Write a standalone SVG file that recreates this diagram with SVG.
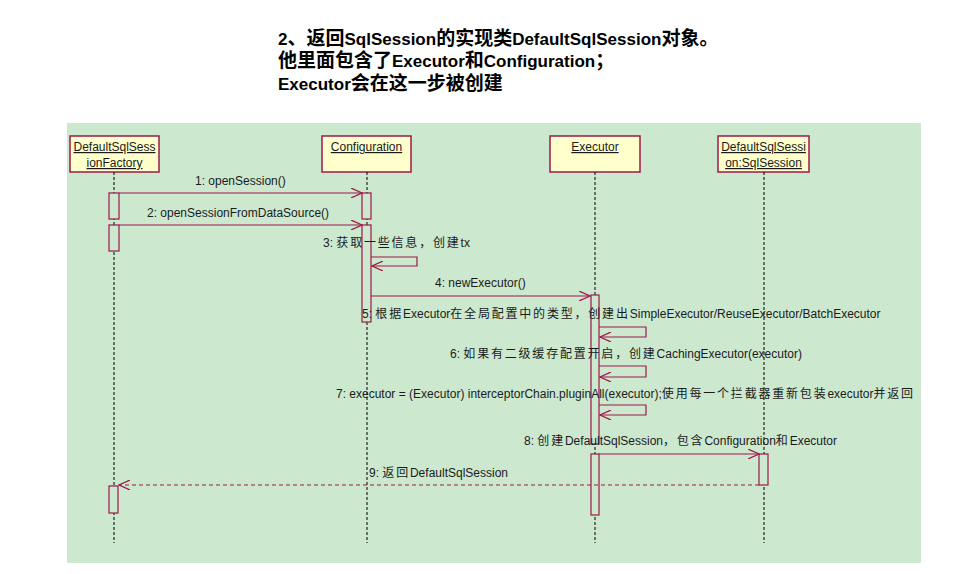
<svg xmlns="http://www.w3.org/2000/svg" width="961" height="574" viewBox="0 0 961 574">
<style>
.t{font-family:"Liberation Sans","Noto Sans CJK SC",sans-serif;font-size:12px;fill:#1b1b1b}
.cj{letter-spacing:1.8px}
.ttl{font-family:"Liberation Sans","Noto Sans CJK SC",sans-serif;font-size:17px;font-weight:bold;fill:#000}
.tc{font-family:"Noto Sans CJK SC",sans-serif;font-size:19px}
.box{fill:#FFFFCC;stroke:#A0174A;stroke-width:1.5}
.nl{text-anchor:middle;text-decoration:underline}
.life{stroke:#000;stroke-width:1;stroke-dasharray:3 2;fill:none}
.act{fill:#CCE8CF;stroke:#A0174A;stroke-width:1.2}
.msg{stroke:#A0174A;stroke-width:1.2;fill:none}
.ret{stroke-dasharray:4 3}
</style>
<defs>
<marker id="ah" markerWidth="12" markerHeight="10" refX="11" refY="5" orient="auto" markerUnits="userSpaceOnUse"><path d="M0,0 L11,5 L0,10" fill="none" stroke="#A0174A" stroke-width="1.2"/></marker>
</defs>
<rect x="0" y="0" width="961" height="574" fill="#fff"/>
<rect x="67" y="123" width="854" height="440" fill="#CCE8CF"/>
<g id="title">
<text class="ttl" x="278" y="45">2<tspan class="tc">、返回</tspan>SqlSession<tspan class="tc">的实现类</tspan>DefaultSqlSession<tspan class="tc">对象。</tspan></text>
<text class="ttl" x="278" y="67"><tspan class="tc">他里面包含了</tspan>Executor<tspan class="tc">和</tspan>Configuration<tspan class="tc">；</tspan></text>
<text class="ttl" x="278" y="90">Executor<tspan class="tc">会在这一步被创建</tspan></text>
</g>
<g id="factory">
<rect class="box" x="70" y="136" width="89" height="36"/>
<text class="t nl" x="114.5" y="151">DefaultSqlSess</text>
<text class="t nl" x="114.5" y="167">ionFactory</text>
<line class="life" x1="114" y1="172" x2="114" y2="543"/>
<rect class="act" x="109" y="193" width="10" height="26"/>
<rect class="act" x="109" y="225" width="10" height="26"/>
<rect class="act" x="109" y="486" width="9" height="27"/>
</g>
<g id="configuration">
<rect class="box" x="322" y="136" width="89" height="36"/>
<text class="t nl" x="366.5" y="151">Configuration</text>
<line class="life" x1="367" y1="172" x2="367" y2="543"/>
<rect class="act" x="362" y="193" width="9" height="26"/>
<rect class="act" x="362" y="225" width="9" height="97"/>
</g>
<g id="executor">
<rect class="box" x="550" y="136" width="90" height="36"/>
<text class="t nl" x="595" y="151">Executor</text>
<line class="life" x1="595" y1="172" x2="595" y2="543"/>
<rect class="act" x="591" y="295" width="8" height="149"/>
<rect class="act" x="591" y="454" width="8" height="61"/>
</g>
<g id="sqlsession">
<rect class="box" x="718" y="136" width="91" height="36"/>
<text class="t nl" x="763.5" y="151">DefaultSqlSessi</text>
<text class="t nl" x="763.5" y="167">on:SqlSession</text>
<line class="life" x1="764" y1="172" x2="764" y2="543"/>
<rect class="act" x="759" y="454" width="9" height="31"/>
</g>
<g id="connectors">
<line class="msg" x1="119" y1="193" x2="362" y2="193" marker-end="url(#ah)"/>
<text class="t" x="195" y="185">1: openSession()</text>
<line class="msg" x1="119" y1="225" x2="362" y2="225" marker-end="url(#ah)"/>
<text class="t" x="147" y="217">2: openSessionFromDataSource()</text>
<path class="msg" d="M371,257 H417 V266 H372" marker-end="url(#ah)"/>
<text class="t" x="323" y="247">3: <tspan class="cj">获取一些信息，创建</tspan>tx</text>
<line class="msg" x1="371" y1="296" x2="590" y2="296" marker-end="url(#ah)"/>
<text class="t" x="435" y="287">4: newExecutor()</text>
<path class="msg" d="M599,327 H646 V337 H600" marker-end="url(#ah)"/>
<text class="t" x="362" y="318">5: <tspan class="cj">根据</tspan>Executor<tspan class="cj">在全局配置中的类型，创建出</tspan>SimpleExecutor/ReuseExecutor/BatchExecutor</text>
<path class="msg" d="M599,366 H646 V377 H600" marker-end="url(#ah)"/>
<text class="t" x="450" y="358">6: <tspan class="cj">如果有二级缓存配置开启，创建</tspan>CachingExecutor(executor)</text>
<path class="msg" d="M599,405 H646 V415 H600" marker-end="url(#ah)"/>
<text class="t" x="336" y="398">7: executor = (Executor) interceptorChain.pluginAll(executor);<tspan class="cj">使用每一个拦截器重新包装</tspan>executor<tspan class="cj">并返回</tspan></text>
<line class="msg" x1="599" y1="454" x2="759" y2="454" marker-end="url(#ah)"/>
<text class="t" x="524" y="445">8: <tspan class="cj">创建</tspan>DefaultSqlSession<tspan class="cj">，包含</tspan>Configuration<tspan class="cj">和</tspan>Executor</text>
<line class="msg ret" x1="759" y1="485" x2="119" y2="485" marker-end="url(#ah)"/>
<text class="t" x="369" y="477">9: <tspan class="cj">返回</tspan>DefaultSqlSession</text>
</g>
</svg>
